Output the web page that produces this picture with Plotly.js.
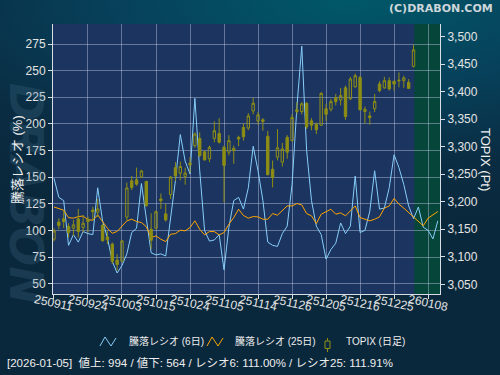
<!DOCTYPE html>
<html>
<head>
<meta charset="utf-8">
<script src="https://cdn.plot.ly/plotly-3.0.1.min.js"></script>
<style>
html,body{margin:0;padding:0;background:#0a2a40;}
#chart{width:500px;height:375px;background:radial-gradient(ellipse 120% 60% at 70% 0%, #005868 0%, #07405a 40%, #0a2c42 75%, #0a283c 100%);}
</style>
</head>
<body>
<div id="chart"></div>
<script>
// tick labels (every 7 trading days)
const tickLabels = ['250911','250924','251003','251015','251024','251105','251114','251126','251205','251216','251225','260108'];
const tickIdx = [0,7,14,21,28,35,42,49,56,63,70,77];

// TOPIX daily OHLC (index 0 = 2025-09-11 ... 74 = 2026-01-05)
const topixOpen  = [3132,3163,3169,3155,3152,3169,3153,3168,3185,3181,3157,3136,3123,3094,3092,3172,3238,3240,3245,3237,
                    3150,3152,3205,3178,3213,3262,3252,3246,3270,3302,3315,3291,3278,3315,3324,3299,3290,3293,3317,3335,
                    3334,3365,3347,3349,3319,3259,3281,3272,3317,3311,3367,3364,3379,3347,3341,3339,3369,3368,3389,3385,
                    3407,3387,3409,3426,3364,3356,3369,3414,3407,3420,3419,3421,3420,3417,3446];
const topixHigh  = [3152,3170,3184,3161,3167,3187,3176,3173,3191,3205,3160,3147,3126,3105,3130,3235,3247,3262,3258,3238,
                    3179,3184,3215,3196,3247,3272,3273,3262,3281,3326,3326,3293,3302,3346,3352,3302,3321,3302,3320,3342,
                    3361,3389,3363,3352,3329,3275,3332,3307,3321,3359,3381,3381,3381,3352,3344,3399,3378,3387,3396,3407,
                    3411,3427,3433,3429,3373,3364,3396,3419,3427,3426,3420,3435,3429,3423,3485];
const topixLow   = [3128,3150,3152,3135,3138,3135,3144,3144,3165,3172,3128,3123,3087,3075,3090,3166,3221,3229,3243,3191,
                    3114,3150,3187,3164,3205,3238,3239,3231,3253,3298,3281,3275,3272,3308,3306,3199,3284,3269,3301,3311,
                    3330,3359,3340,3329,3249,3226,3275,3264,3278,3310,3359,3359,3332,3330,3323,3338,3347,3364,3375,3375,
                    3349,3385,3407,3367,3342,3340,3363,3399,3405,3402,3402,3408,3407,3405,3444];
const topixClose = [3147,3157,3164,3144,3158,3146,3161,3164,3182,3187,3129,3131,3092,3086,3129,3225,3226,3232,3256,3193,
                    3130,3182,3202,3167,3245,3247,3264,3252,3267,3323,3284,3276,3299,3329,3308,3266,3311,3297,3314,3318,
                    3356,3379,3358,3346,3249,3244,3298,3296,3290,3353,3364,3378,3336,3339,3331,3397,3359,3382,3382,3393,
                    3355,3423,3429,3367,3368,3353,3382,3402,3420,3405,3414,3420,3425,3406,3476];

// 騰落レシオ (6日) and (25日)
const ratio6  = [149,131,128,86,96,89,99,97,96,140,109,93,71,60,67,78,98,102,144,110,
                 79,77,78,76,112,147,190,165,153,224,156,100,90,91,96,63,103,128,131,120,
                 140,179,156,128,89,86,85,97,104,143,216,273,175,128,104,96,73,82,88,107,
                 97,104,151,98,100,118,156,120,121,140,171,159,143,123,111,122,103,100,92,109];
const ratio25 = [122,120.5,119,112,111.5,113,113.5,110,109.6,114.6,108,102,97.3,99,104,109,110.5,108.3,107.4,103.5,
                 93.3,94.9,91.7,89.5,96.4,97,100.2,99.6,102.7,109,101.1,95.8,98.9,98.9,95.8,98,105.8,112.1,119.9,114,
                 111.5,113,112.7,110.5,110.5,115.8,114.3,118.4,123,123,125.2,124,115.8,113.7,106.5,115.2,117.4,119.9,115.2,116.5,
                 113.7,118.4,123,112.1,110.5,109,110.5,112.7,120.9,123,130,124.6,120.9,116.8,111.9,108.3,104.3,111.5,114.6,117.7];

const seriesNames = ['騰落レシオ (6日)', '騰落レシオ (25日)', 'TOPIX (日足)'];
const statusText = '[2026-01-05]  値上: 994 / 値下: 564 / レシオ6: 111.00% / レシオ25: 111.91%';

const idxC = topixOpen.map((_, i) => i);
const idxR = ratio6.map((_, i) => i);

const FONT = 'Liberation Sans, Noto Sans CJK JP, sans-serif';
const olive = '#8e8e14';
const cyan = '#87cefa';
const orange = '#ffa500';
const gridC = 'rgba(190,200,225,0.45)';
const axC = '#d8dde6';

// plot area in pixels: x 53..440, y 24..294
const PX = x => (x - 53) / 387;
const PY = y => (294 - y) / 270;

const traces = [
  {type:'scatter', mode:'lines', x:idxR, y:ratio6, name:seriesNames[0], line:{color:cyan, width:1}, yaxis:'y'},
  {type:'scatter', mode:'lines', x:idxR, y:ratio25, name:seriesNames[1], line:{color:orange, width:1}, yaxis:'y'},
  {type:'candlestick', x:idxC, open:topixOpen, high:topixHigh, low:topixLow, close:topixClose, name:seriesNames[2], yaxis:'y2',
   increasing:{line:{color:olive, width:1}, fillcolor:'rgba(0,0,0,0)'},
   decreasing:{line:{color:olive, width:1}, fillcolor:olive},
   whiskerwidth:0, hoverinfo:'skip'}
];

const annotations = [
  {text:'DRABON', xref:'paper', yref:'paper', x:-0.069, y:0.37, xanchor:'center', yanchor:'middle', showarrow:false, textangle:90,
   font:{family:'DejaVu Sans', size:46, color:'rgba(70,115,140,0.25)', weight:'bold', style:'italic'}}
];
tickLabels.forEach((t, k) => annotations.push({
  text:t, x:tickIdx[k], xref:'x', y:0, yref:'paper', yshift:-9, showarrow:false,
  textangle:12, xanchor:'center', yanchor:'middle', font:{family:FONT, size:12, color:'#e4e4e4'}
}));
// legend texts
const legTextX = [127, 233, 344];
seriesNames.forEach((n, k) => annotations.push({
  text:n, xref:'paper', yref:'paper', x:PX(legTextX[k]), y:PY(341), xanchor:'left', yanchor:'middle', showarrow:false,
  font:{family:FONT, size:10, color:'#eeeeee'}
}));
annotations.push(
  {text:'騰落レシオ (%)', xref:'paper', yref:'paper', x:-0.093, y:0.496, xanchor:'center', yanchor:'middle', showarrow:false, textangle:-90,
   font:{family:FONT, size:13, color:'#f0f0f0'}},
  {text:'TOPIX (Pt)', xref:'paper', yref:'paper', x:1.119, y:0.50, xanchor:'center', yanchor:'middle', showarrow:false, textangle:90,
   font:{family:FONT, size:13, color:'#f0f0f0'}},
  {text:'(C)DRABON.COM', xref:'paper', yref:'paper', x:1.142, y:1.059, xanchor:'right', yanchor:'middle', showarrow:false,
   font:{family:'DejaVu Sans', size:11, color:'#cdd6da', weight:'bold'}},
  {text:statusText, xref:'paper', yref:'paper', x:-0.124, y:-0.2556, xanchor:'left', yanchor:'middle', showarrow:false,
   font:{family:FONT, size:11.5, color:'#eeeeee'}}
);

// legend icons
function zig(x0, color) {
  const pts = [[x0,346],[x0+5,337],[x0+11,346],[x0+16,338]];
  const d = pts.map((p,i)=> (i?'L':'M') + PX(p[0]).toFixed(4) + ',' + PY(p[1]).toFixed(4)).join(' ');
  return {type:'path', xref:'paper', yref:'paper', path:d, line:{color:color, width:1}, layer:'above'};
}
const shapes = [
  {type:'rect', xref:'x', yref:'paper', x0:74.15, x1:79.45, y0:0, y1:1, fillcolor:'#06463a', line:{width:0}, layer:'below'},
  zig(100, cyan), zig(207, orange),
  {type:'line', xref:'paper', yref:'paper', x0:PX(327.5), x1:PX(327.5), y0:PY(338), y1:PY(352), line:{color:olive, width:1}, layer:'above'},
  {type:'rect', xref:'paper', yref:'paper', x0:PX(325), x1:PX(330), y0:PY(341), y1:PY(348.5), fillcolor:'#0a2c42', line:{color:olive, width:1}, layer:'above'}
];

const layout = {
  width:500, height:375,
  margin:{l:53, r:60, t:24, b:81},
  paper_bgcolor:'rgba(0,0,0,0)',
  plot_bgcolor:'#1b3460',
  showlegend:false,
  xaxis:{range:[-0.2, 79.45], tickvals:tickIdx, ticktext:tickIdx.map(()=> ''), showticklabels:true,
         ticks:'outside', ticklen:4, tickcolor:axC, showgrid:true, gridcolor:gridC, gridwidth:1,
         showline:true, linecolor:axC, linewidth:1, zeroline:false, rangeslider:{visible:false}, fixedrange:true},
  yaxis:{range:[40.3, 293.8], tickvals:[50,75,100,125,150,175,200,225,250,275], ticks:'outside', ticklen:4, tickcolor:axC,
         showgrid:true, gridcolor:gridC, showline:true, linecolor:axC, zeroline:false,
         tickfont:{family:FONT, size:12, color:'#e4e4e4'}},
  yaxis2:{range:[3032.4, 3523], overlaying:'y', side:'right', tickvals:[3050,3100,3150,3200,3250,3300,3350,3400,3450,3500],
          tickformat:',d', ticks:'outside', ticklen:4, tickcolor:axC, showgrid:false, showline:true, linecolor:axC,
          zeroline:false, tickfont:{family:FONT, size:12, color:'#e4e4e4'}},
  shapes:shapes,
  annotations:annotations
};

Plotly.newPlot('chart', traces, layout, {displayModeBar:false, staticPlot:true});
</script>
</body>
</html>
